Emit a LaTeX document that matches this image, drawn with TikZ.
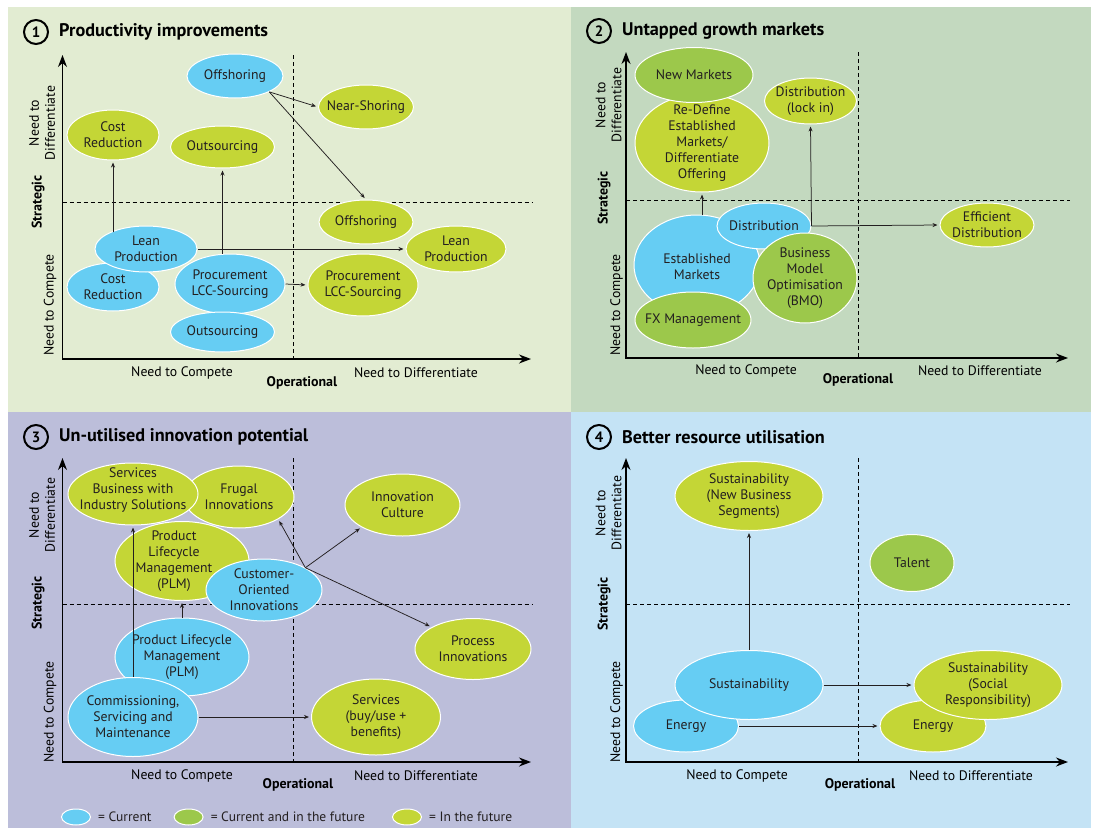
\documentclass[tikz,border=0pt]{standalone}
\usepackage{fontspec}
\setmainfont{PT Sans}
\usetikzlibrary{shapes.geometric,arrows.meta,positioning}

\definecolor{bgA}{RGB}{226,236,210}
\definecolor{bgB}{RGB}{195,217,191}
\definecolor{bgC}{RGB}{188,190,218}
\definecolor{bgD}{RGB}{196,227,245}
\definecolor{curblue}{RGB}{102,205,243}
\definecolor{bothgreen}{RGB}{156,200,75}
\definecolor{futlime}{RGB}{196,214,54}
\definecolor{inkgrey}{RGB}{35,31,32}

\tikzset{
  bub/.style={ellipse, draw=white, line width=1bp, inner sep=0pt},
  cur/.style={bub, fill=curblue},
  both/.style={bub, fill=bothgreen},
  fut/.style={bub, fill=futlime},
  sz/.style 2 args={minimum width=#1bp, minimum height=#2bp},
  txt/.style={align=center, inner sep=0pt, text=inkgrey, font=\fontsize{13.8}{16}\selectfont},
  lab/.style={label={[txt]center:{#1}}},
  labat/.style 2 args={label={[txt, #1]center:{#2}}},
  arr/.style={draw=inkgrey, line width=0.75bp, shorten >=2bp, -{Stealth[length=5bp,width=4bp]}},
  axis/.style={draw=black, line width=1.3bp, {Stealth[length=12bp,width=9bp]}-{Stealth[length=12bp,width=9bp]}},
  grid/.style={draw=black, line width=0.9bp, dash pattern=on 4bp off 3bp},
  axlab/.style={inner sep=0pt, text=black, font=\fontsize{13.8}{16}\selectfont},
  axbold/.style={axlab, font=\bfseries\fontsize{14}{16}\selectfont},
  numc/.style={circle, draw=black, line width=2bp, minimum size=24bp, inner sep=0pt, font=\bfseries\fontsize{15}{15}\selectfont},
  ttl/.style={inner sep=0pt, font=\bfseries\fontsize{18.3}{20}\selectfont},
  legtxt/.style={inner sep=0pt, text=inkgrey, font=\fontsize{13.6}{14}\selectfont}
}

\begin{document}
\begin{tikzpicture}[x=1bp, y=-1bp]
\fill[white] (0,0) rectangle (1098,828);
\useasboundingbox (0,0) rectangle (1098,828);
\fill[bgA] (8,7) rectangle (571,412);
\fill[bgB] (571,7) rectangle (1091,412);
\fill[bgC] (8,412) rectangle (571,828);
\fill[bgD] (571,412) rectangle (1091,828);

% 1 productivity improvements
\node[numc] (t1) at (36,32) {1};
\node[ttl, right=10bp of t1] (t1txt) {Productivity improvements};
\draw[grid] (293.6,55) -- (293.6,359);
\draw[grid] (62.5,202) -- (532,202);
\draw[axis] (62.5,55) |- (531,359);
\node[axlab, rotate=90, align=center] (p1diff) at (42,123) {Need to\\Differentiate};
\node[axbold, rotate=90] (p1strat) at (38,202) {Strategic};
\node[axlab, rotate=90] (p1comp) at (50,305) {Need to Compete};
\node[axlab] (p1xcomp) at (182,373) {Need to Compete};
\node[axbold] (p1op) at (302,383) {Operational};
\node[axlab] (p1xdiff) at (416,373) {Need to Differentiate};

\node[cur, sz={96}{44}, lab={Offshoring}] (offB) at (235,76) {};
\node[fut, sz={95}{44}, lab={Near-Shoring}] (nearL) at (366,107) {};
\node[fut, sz={92}{50}, lab={Cost\\Reduction}] (costL) at (113,135) {};
\node[fut, sz={104}{42}, lab={Outsourcing}] (outsL) at (222.5,147) {};
\node[fut, sz={94}{44}, lab={Offshoring}] (offL) at (366,222) {};
\node[fut, sz={100}{46}, lab={Lean\\Production}] (leanL) at (456,249) {};
\node[fut, sz={110}{62}, lab={Procurement\\LCC-Sourcing}] (procL) at (363,285) {};
\node[cur, sz={92}{48}, lab={Cost\\Reduction}] (costB) at (113,287) {};
\node[cur, sz={102}{46}, lab={Lean\\Production}] (leanB) at (146,249) {};
\node[cur, sz={110}{60}, lab={Procurement\\LCC-Sourcing}] (procB) at (230,284) {};
\node[cur, sz={104}{40}, lab={Outsourcing}] (outsB) at (222.5,332) {};

\draw[arr] (offB.south east) -- (nearL.west);
\draw[arr] (offB.south east) -- (offL.north);
\draw[arr] (costL.south |- leanB.north west) -- (costL.south);
\draw[arr] (outsL.south |- procB.north) -- (outsL.south);
\draw[arr] (leanB.east) -- (leanL.west);
\draw[arr] (procB.east) -- (procL.west);

% 2 untapped growth markets
\node[numc] (t2) at (599,31) {2};
\node[ttl, right=10bp of t2] (t2txt) {Untapped growth markets};
\draw[grid] (858,52) -- (858,358);
\draw[grid] (626,200) -- (1070,200);
\draw[axis] (626,52) |- (1068,358);
\node[axlab, rotate=90, align=center] (p2diff) at (608.5,105) {Need to\\Differentiate};
\node[axbold, rotate=90] (p2strat) at (604,198) {Strategic};
\node[axlab, rotate=90] (p2comp) at (616.6,305) {Need to Compete};
\node[axlab] (p2xcomp) at (746,371) {Need to Compete};
\node[axbold] (p2op) at (858,380) {Operational};
\node[axlab] (p2xdiff) at (980,371) {Need to Differentiate};

\node[fut, sz={134}{98}, lab={Re-Define\\Established\\Markets/\\Differentiate\\Offering}] (redefL) at (702,143) {};
\node[both, sz={118}{55}, lab={New Markets}] (newG) at (694,75) {};
\node[fut, sz={92}{46}, lab={Distribution\\(lock in)}] (lockL) at (810.5,101) {};
\node[cur, sz={126}{100}, labat={yshift=-2bp}{Established\\Markets}] (estB) at (697,265) {};
\node[cur, sz={94}{46}, lab={Distribution}] (distB) at (764,226) {};
\node[both, sz={104}{90}, lab={Business\\Model\\Optimisation\\(BMO)}] (bmoG) at (805,278) {};
\node[both, sz={116}{56}, lab={FX Management}] (fxG) at (693,320) {};
\node[fut, sz={94}{44}, lab={Efficient\\Distribution}] (effL) at (987,225) {};

\draw[arr] (redefL.south |- estB.north) -- (redefL.south);
\draw[arr] (distB.east) -- (lockL.south);
\draw[arr] (distB.east) -- (effL.west);

% 3 un-utilised innovation potential
\node[numc] (t3) at (36,437) {3};
\node[ttl, right=10bp of t3] (t3txt) {Un-utilised innovation potential};
\draw[grid] (293.6,458) -- (293.6,762);
\draw[grid] (62.5,604.3) -- (532,604.3);
\draw[axis] (62.5,458) |- (531,762);
\node[axlab, rotate=90, align=center] (p3diff) at (42,515) {Need to\\Differentiate};
\node[axbold, rotate=90] (p3strat) at (38,603) {Strategic};
\node[axlab, rotate=90] (p3comp) at (50,712) {Need to Compete};
\node[axlab] (p3xcomp) at (182,776) {Need to Compete};
\node[axbold] (p3op) at (298,785) {Operational};
\node[axlab] (p3xdiff) at (416,776) {Need to Differentiate};

\node[fut, sz={110}{62}, lab={Frugal\\Innovations}] (frugL) at (239,497) {};
\node[fut, sz={130}{62}, labat={yshift=4bp}{Services\\Business with\\Industry Solutions}] (servbizL) at (133,494) {};
\node[fut, sz={115}{62}, lab={Innovation\\Culture}] (cultL) at (402.5,505) {};
\node[fut, sz={134}{79}, labat={xshift=-8bp}{Product\\Lifecycle\\Management\\(PLM)}] (plmL) at (182,561) {};
\node[cur, sz={116}{62}, lab={Customer-\\Oriented\\Innovations}] (custB) at (264,590) {};
\node[fut, sz={116}{61}, lab={Process\\Innovations}] (procinnL) at (473,649) {};
\node[cur, sz={134}{78}, lab={Product Lifecycle\\Management\\(PLM)}] (plmB) at (182,657) {};
\node[cur, sz={130}{79}, lab={Commissioning,\\Servicing and\\Maintenance}] (commB) at (133,717) {};
\node[fut, sz={129}{76}, lab={Services\\(buy/use +\\benefits)}] (servL) at (376,717) {};

\draw[arr] (commB.north) -- (servbizL.south);
\draw[arr] (plmB.north) -- (plmL.south);
\draw[arr] (custB.north east) -- (frugL.south east);
\draw[arr] (custB.north east) -- (cultL.south west);
\draw[arr] (custB.north east) -- (procinnL.north west);
\draw[arr] (commB.east) -- (servL.west);

% legend
\node[cur, sz={29}{16}] (legcur) at (76,817) {};
\node[legtxt, right=7bp of legcur] (legcurtxt) {= Current};
\node[both, sz={29}{16}] (legboth) at (188.6,817) {};
\node[legtxt, right=7bp of legboth] (legbothtxt) {= Current and in the future};
\node[fut, sz={29}{16}] (legfut) at (407,817) {};
\node[legtxt, right=7bp of legfut] (legfuttxt) {= In the future};

% 4 better resource utilisation
\node[numc] (t4) at (599,437) {4};
\node[ttl, right=10bp of t4] (t4txt) {Better resource utilisation};
\draw[grid] (858,458) -- (858,762);
\draw[grid] (626,604) -- (1070,604);
\draw[axis] (626,458) |- (1068,762);
\node[axlab, rotate=90, align=center] (p4diff) at (608.5,513) {Need to\\Differentiate};
\node[axbold, rotate=90] (p4strat) at (604,604) {Strategic};
\node[axlab, rotate=90] (p4comp) at (616.6,712) {Need to Compete};
\node[axlab] (p4xcomp) at (737,776) {Need to Compete};
\node[axbold] (p4op) at (860,785) {Operational};
\node[axlab] (p4xdiff) at (971,776) {Need to Differentiate};

\node[fut, sz={148}{69}, lab={Sustainability\\(New Business\\Segments)}] (sustnewL) at (749,496) {};
\node[both, sz={84}{57}, lab={Talent}] (talentG) at (912,563) {};
\node[cur, sz={105}{52}, lab={Energy}] (energyB) at (686,726) {};
\node[cur, sz={148}{69}, lab={Sustainability}] (sustB) at (749,685) {};
\node[fut, sz={106}{52}, lab={Energy}] (energyL) at (933,726) {};
\node[fut, sz={148}{69}, lab={Sustainability\\(Social\\Responsibility)}] (sustsocL) at (988,685) {};

\draw[arr] (sustB.north) -- (sustnewL.south);
\draw[arr] (sustB.east) -- (sustsocL.west);
\draw[arr] (energyB.east) -- (energyL.west);
\end{tikzpicture}
\end{document}
